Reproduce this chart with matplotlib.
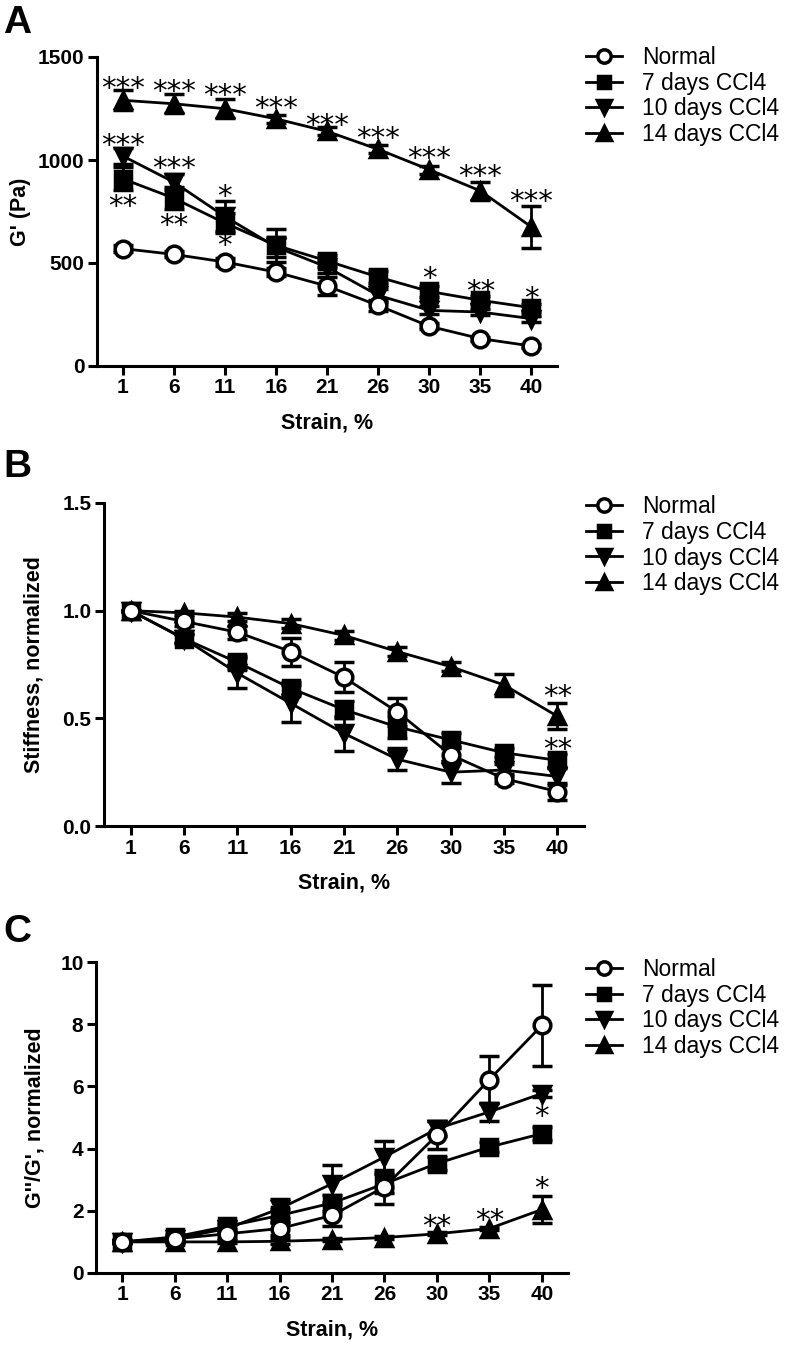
import numpy as np
import matplotlib.pyplot as plt

plt.rcParams['font.family'] = ['Liberation Sans', 'DejaVu Sans']

# categories (strain, %)
strain = ['1', '6', '11', '16', '21', '26', '30', '35', '40']
groups = ['Normal', '7 days CCl4', '10 days CCl4', '14 days CCl4']

# A: G' (Pa)
gA_normal = [570, 542, 505, 456, 388, 294, 193, 133, 97]
gA_7d = [909, 815, 694, 586, 510, 432, 362, 319, 283]
gA_10d = [1020, 893, 726, 578, 480, 343, 270, 262, 230]
gA_14d = [1290, 1273, 1249, 1200, 1139, 1052, 953, 850, 675]
eA_normal = [15, 15, 20, 20, 45, 25, 15, 10, 10]
eA_7d = [55, 55, 50, 80, 30, 30, 25, 20, 20]
eA_10d = [40, 40, 73, 50, 30, 30, 20, 15, 15]
eA_14d = [48, 45, 45, 20, 20, 20, 20, 45, 100]

# B: stiffness, normalized
sB_normal = [1.0, 0.95, 0.90, 0.81, 0.69, 0.53, 0.33, 0.22, 0.16]
sB_7d = [1.0, 0.87, 0.76, 0.64, 0.54, 0.46, 0.40, 0.34, 0.305]
sB_10d = [1.0, 0.87, 0.71, 0.57, 0.43, 0.31, 0.25, 0.26, 0.23]
sB_14d = [1.0, 0.99, 0.97, 0.94, 0.885, 0.81, 0.74, 0.655, 0.51]
eB_normal = [0, 0.02, 0.03, 0.065, 0.07, 0.065, 0.03, 0.02, 0.04]
eB_7d = [0, 0.02, 0.03, 0.03, 0.04, 0.05, 0.03, 0.02, 0.03]
eB_10d = [0, 0.02, 0.07, 0.085, 0.08, 0.05, 0.05, 0.03, 0.04]
eB_14d = [0, 0.01, 0.02, 0.02, 0.02, 0.02, 0.02, 0.05, 0.06]

# C: G''/G', normalized
rC_normal = [1.0, 1.1, 1.26, 1.43, 1.85, 2.77, 4.43, 6.22, 7.96]
rC_7d = [1.0, 1.16, 1.5, 1.85, 2.25, 2.87, 3.52, 4.05, 4.48]
rC_10d = [1.0, 1.1, 1.43, 2.07, 2.87, 3.73, 4.64, 5.18, 5.77]
rC_14d = [1.0, 1.0, 1.0, 1.02, 1.07, 1.14, 1.26, 1.43, 2.04]
eC_normal = [0.05, 0.1, 0.15, 0.2, 0.35, 0.55, 0.45, 0.75, 1.3]
eC_7d = [0.05, 0.1, 0.15, 0.2, 0.25, 0.3, 0.2, 0.15, 0.2]
eC_10d = [0.05, 0.1, 0.1, 0.3, 0.6, 0.5, 0.25, 0.3, 0.1]
eC_14d = [0.05, 0.05, 0.05, 0.1, 0.05, 0.05, 0.05, 0.05, 0.42]

# significance marks: (text, category index, y value)
starsA = [('***', 0, 1370), ('***', 0, 1095), ('**', 0, 796),
          ('***', 1, 1354), ('***', 1, 982), ('**', 1, 707),
          ('***', 2, 1338), ('*', 2, 845), ('*', 2, 610),
          ('***', 3, 1273), ('***', 4, 1192), ('***', 5, 1128),
          ('***', 6, 1031), ('*', 6, 448),
          ('***', 7, 942), ('**', 7, 383),
          ('***', 8, 820), ('*', 8, 351)]
starsB = [('**', 8, 0.623), ('**', 8, 0.377)]
starsC = [('*', 8, 5.18), ('*', 8, 2.87), ('**', 6, 1.64), ('**', 7, 1.85)]

styles = [dict(marker='o', mfc='white', ms=12),
          dict(marker='s', mfc='black', ms=11),
          dict(marker='v', mfc='black', ms=12),
          dict(marker='^', mfc='black', ms=12)]

fig = plt.figure(figsize=(8, 13.46), dpi=100)
W, H = 800, 1346


def panel(rect, series, errs, yticks, ylim, ylabel, fmt, stars, letter, letter_y, leg_top, ylab_x):
    l, r, b, t = rect
    ax = fig.add_axes([l / W, 1 - b / H, (r - l) / W, (b - t) / H])
    x = np.arange(len(strain))
    handles = []
    # 14 days first, normal last (on top)
    for i in [3, 2, 1, 0]:
        c = ax.errorbar(x, series[i], yerr=errs[i], color='black', lw=2,
                        elinewidth=2, capsize=7, capthick=2, mec='black',
                        mew=2.5, zorder=3 + (3 - i), **styles[i])
        handles.append((i, c[0]))
    handles = [h for i, h in sorted(handles)]
    ax.set_xlim(-0.5, 8.5)
    ax.set_ylim(*ylim)
    ax.set_xticks(x)
    ax.set_xticklabels(strain)
    ax.set_yticks(yticks)
    ax.set_yticklabels([fmt.format(v) for v in yticks])
    for s in ['top', 'right']:
        ax.spines[s].set_visible(False)
    for s in ['left', 'bottom']:
        ax.spines[s].set_linewidth(2.2)
    ax.tick_params(width=2.2, length=6.5, labelsize=15, pad=2.5)
    for lab in ax.get_xticklabels() + ax.get_yticklabels():
        lab.set_fontweight('bold')
    ax.set_xlabel('Strain, %', fontsize=15.5, fontweight='bold')
    ax.xaxis.set_label_coords(0.5, -57 / (b - t))
    ax.xaxis.label.set_va('center')
    ax.set_ylabel(ylabel, fontsize=15.5, fontweight='bold')
    ax.yaxis.set_label_coords((ylab_x - l) / (r - l), 0.5)
    ax.yaxis.label.set_va('center')
    for s, xi, yv in stars:
        ax.annotate(s, (xi, yv), xytext=(0, -9.5), textcoords='offset points',
                    ha='center', va='baseline', fontsize=21,
                    family='DejaVu Sans', zorder=10)
    fig.text(3 / W, 1 - letter_y / H, letter, fontsize=28, fontweight='bold',
             ha='left', va='baseline')
    fig.legend(handles, groups, loc='upper left',
               bbox_to_anchor=(586 / W, 1 - leg_top / H), frameon=False,
               fontsize=16.5, handlelength=1.55, handletextpad=0.9,
               labelspacing=0.12, borderpad=0, borderaxespad=0, markerscale=0.8)
    return ax


panel((97, 557, 366, 57),
      [gA_normal, gA_7d, gA_10d, gA_14d], [eA_normal, eA_7d, eA_10d, eA_14d],
      [0, 500, 1000, 1500], (0, 1500), "G' (Pa)", '{:.0f}', starsA, 'A', 33, 46, 20)
panel((104, 584, 826, 503),
      [sB_normal, sB_7d, sB_10d, sB_14d], [eB_normal, eB_7d, eB_10d, eB_14d],
      [0.0, 0.5, 1.0, 1.5], (0, 1.5), 'Stiffness, normalized', '{:.1f}', starsB, 'B', 477, 495, 34)
panel((96, 568, 1273, 962),
      [rC_normal, rC_7d, rC_10d, rC_14d], [eC_normal, eC_7d, eC_10d, eC_14d],
      [0, 2, 4, 6, 8, 10], (0, 10), "G''/G', normalized", '{:.0f}', starsC, 'C', 942, 958, 35)

fig.savefig('out.png', dpi=100)
